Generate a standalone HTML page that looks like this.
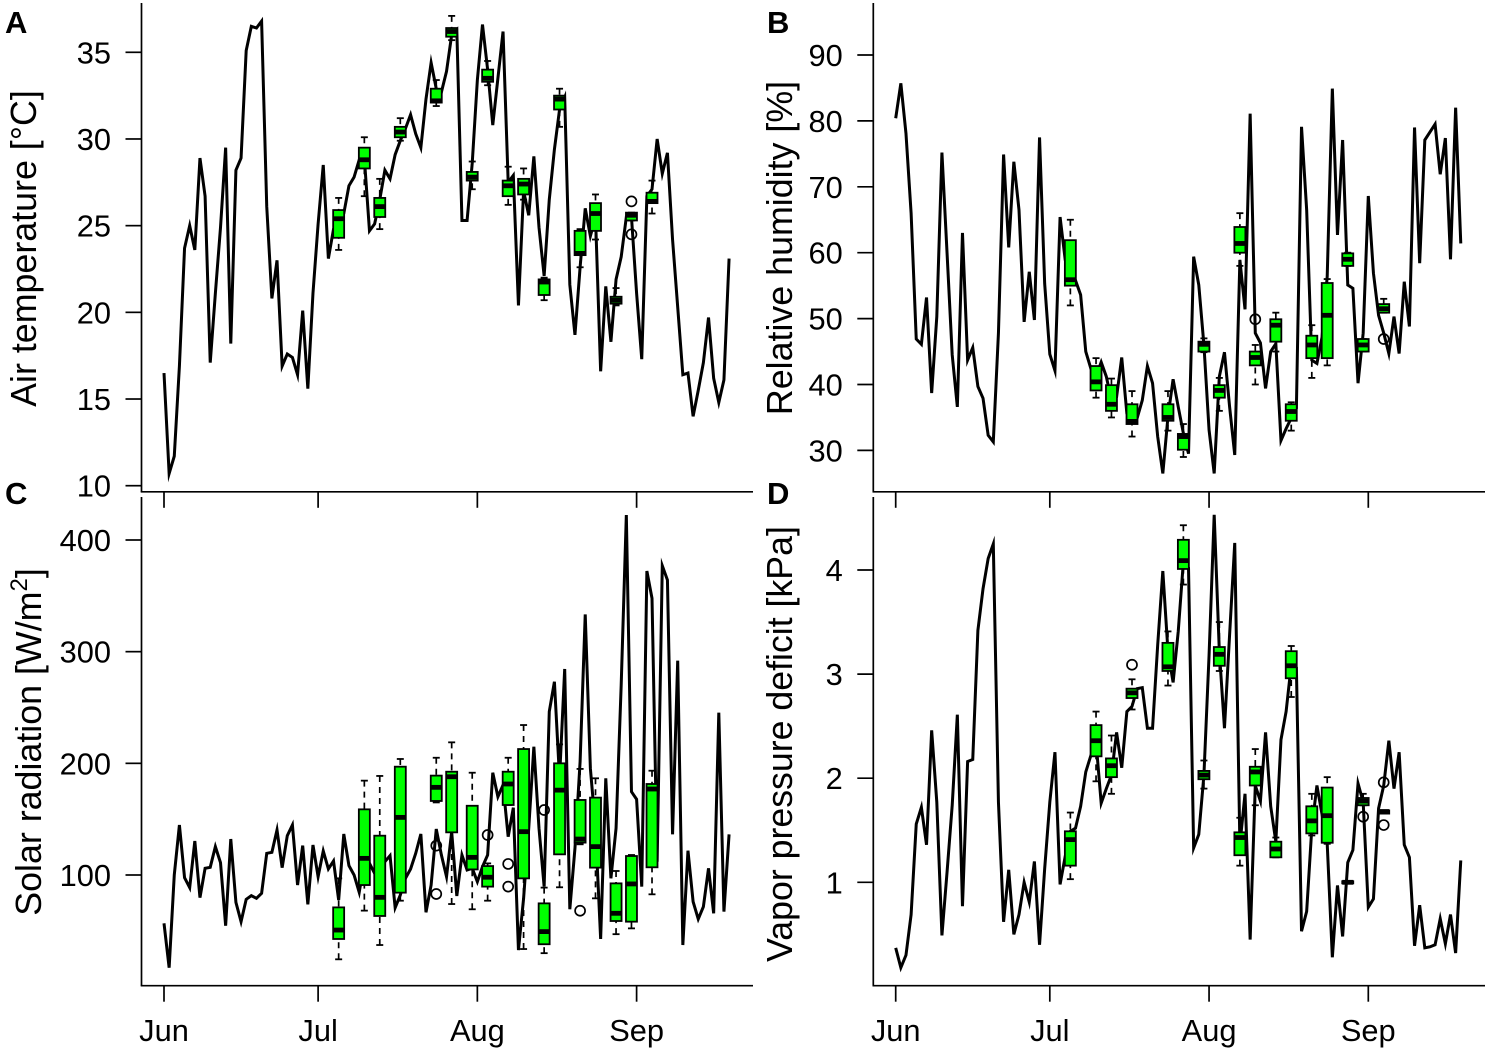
<!DOCTYPE html>
<html lang="en">
<head>
<meta charset="utf-8">
<title>Climate time series with boxplots</title>
<style>
html,body{margin:0;padding:0;background:#fff;}
svg{display:block;font-family:"Liberation Sans",Arial,sans-serif;fill:#000;}
</style>
</head>
<body>
<svg id="chart" xmlns="http://www.w3.org/2000/svg" width="1489" height="1051" viewBox="0 0 1489 1051">
  <rect x="0" y="0" width="1489" height="1051" fill="#fff"/>
  <text x="5" y="33" font-size="31" font-weight="bold">A</text>
  <text x="767" y="33" font-size="31" font-weight="bold">B</text>
  <text x="5" y="504" font-size="31" font-weight="bold">C</text>
  <text x="767" y="504" font-size="31" font-weight="bold">D</text>
  <text transform="translate(36 248.5) rotate(-90)" text-anchor="middle" font-size="35.8">Air temperature [°C]</text>
  <text transform="translate(792 248) rotate(-90)" text-anchor="middle" font-size="35.8">Relative humidity [%]</text>
  <text transform="translate(41 742) rotate(-90)" text-anchor="middle" font-size="35.8">Solar radiation [W/m<tspan font-size="24" dy="-14">2</tspan><tspan dy="14">]</tspan></text>
  <text transform="translate(792 744) rotate(-90)" text-anchor="middle" font-size="35.7">Vapor pressure deficit [kPa]</text>
</svg>
<script>
const monthLabels = ['Jun', 'Jul', 'Aug', 'Sep'];
const monthDays = [0, 30, 61, 92];
const boxDays = [34, 39, 42, 46, 53, 56, 60, 63, 67, 70, 74, 77, 81, 84, 88, 91, 95];

const airTemp = [
16.5,10.7,11.7,16.9,23.7,25.0,23.6,28.9,26.7,17.1,
21.1,24.9,29.5,18.2,28.2,28.9,35.1,36.5,36.4,36.8,
26.1,20.8,23.0,16.9,17.6,17.4,16.4,20.1,15.6,21.1,
25.1,28.5,23.1,24.8,25.2,25.7,27.3,27.8,28.8,28.9,
24.7,25.1,26.5,28.2,27.7,29.1,29.9,30.6,31.4,30.3,
29.5,32.3,34.4,32.9,32.7,33.9,36.0,36.3,25.3,25.3,
28.6,33.4,36.6,34.0,30.8,33.5,36.2,27.5,27.9,20.4,
27.0,25.6,29.0,24.9,22.1,26.5,29.4,31.7,32.4,21.6,
18.7,22.6,26.0,24.4,25.5,16.6,21.5,18.3,21.9,23.2,
25.5,25.5,21.1,17.3,26.7,27.1,30.0,28.0,29.2,24.2,
20.3,16.4,16.5,14.0,15.5,17.1,19.7,16.2,14.8,16.1,
23.1];
/* each row: low whisker, q1, median, q3, high whisker */
const airTempBoxes = [
[23.6,24.3,25.4,25.9,26.6],[26.7,28.3,28.8,29.5,30.1],[24.8,25.5,26.1,26.6,27.7],
[29.9,30.1,30.4,30.7,31.2],[31.9,32.1,32.2,32.9,33.4],[35.7,35.9,36.2,36.4,37.1],
[27.1,27.6,27.8,28.1,28.7],[33.1,33.3,33.5,34.0,34.5],[26.2,26.7,27.3,27.6,28.4],
[26.5,26.8,27.4,27.7,28.3],[20.7,21.0,21.75,21.9,22.0],[30.7,31.7,32.3,32.5,32.9],
[22.6,23.3,23.4,24.7,24.8],[24.2,24.7,25.7,26.3,26.8],[20.4,20.5,20.7,20.9,21.4],
[25.3,25.3,25.6,25.75,25.75],[25.7,26.3,26.4,26.9,27.6]];
const airTempOutlierDays = [91, 91];
const airTempOutlierValues = [26.4, 24.5];
const airTempTicks = [10, 15, 20, 25, 30, 35];

const humidity = [
80.4,85.7,78.1,66.0,46.9,46.1,53.2,38.7,50.3,75.2,
59.9,44.5,36.6,63.0,43.7,45.6,39.7,37.9,32.3,31.3,
47.8,74.9,60.8,73.8,66.5,49.5,57.1,49.8,77.5,55.3,
44.6,42.1,65.4,58.9,55.8,55.8,53.6,45.0,42.4,41.2,
43.4,41.2,37.6,38.1,44.1,35.6,34.4,34.9,37.6,42.8,
40.2,32.1,26.5,35.1,40.8,36.6,32.6,29.5,59.4,55.1,
46.0,33.1,26.5,41.2,44.9,36.6,29.3,58.9,51.4,81.1,
47.8,46.3,39.4,45.0,46.2,31.5,33.3,34.9,36.4,79.1,
66.5,43.7,43.2,47.2,56.4,84.9,62.7,77.1,55.1,54.6,
40.2,47.8,68.6,56.9,50.5,47.8,44.7,50.3,44.7,55.6,
48.8,79.0,58.4,77.1,78.3,79.5,71.9,77.4,59.0,82.0,
61.4];
const humidityBoxes = [
[52.0,55.0,55.9,61.9,65.0],[38.0,39.1,40.4,42.8,44.0],[35.0,36.0,37.0,39.9,40.9],
[32.1,34.0,34.4,37.0,39.0],[33.0,34.5,35.0,37.0,39.0],[29.0,30.1,32.1,32.5,34.0],
[44.9,45.0,46.1,46.5,47.0],[36.0,38.0,39.1,39.9,41.0],[58.0,60.0,61.4,63.9,66.0],
[40.0,42.9,44.1,45.0,46.0],[45.0,46.5,49.0,49.9,50.9],[33.0,34.5,35.9,37.0,37.3],
[41.0,44.0,46.0,47.4,49.0],[42.9,44.0,50.5,55.4,56.0],[58.0,58.0,59.0,59.9,60.0],
[45.0,45.0,46.0,46.9,46.9],[50.9,50.9,51.5,52.2,53.0]];
const humidityOutlierDays = [70, 95];
const humidityOutlierValues = [49.9, 46.9];
const humidityTicks = [30, 40, 50, 60, 70, 80, 90];

const radiation = [
56.7,17.0,100,144.8,97.6,88.7,130.4,79.7,106,106.9,
125.4,111,54.6,132.2,75.5,58.2,78.2,81.5,79.1,83.6,
119.4,120.3,140.3,106.6,135.2,144.8,91,126.3,73.7,126.9,
98.5,121.5,105.4,112.5,77.6,136.7,108.4,100,84.5,112,
110.4,101.5,106,111.9,117.3,70.7,82,97,105.4,119.4,
136.7,66.6,91,141.2,117.9,98.5,138.8,81.2,117.9,104.5,
106,94,107.5,117.9,191.6,170.1,180.6,134.3,160.3,32.8,
79,141.8,214.9,141.8,89.6,246.3,273.1,186.6,284.5,69.3,
123.9,201.5,333.4,195.5,141.8,42.7,186.6,97,141.8,270.1,
422.4,174.6,167.8,89.6,372.2,347.8,111.9,377,364.2,136.4,
291.9,37.3,121.8,76.1,60.6,71.6,106,65.7,245.4,67.2,
136.4];
const radiationBoxes = [
[24.5,42.7,50.7,71,97],[68.1,91,114.9,158.8,184.5],[37.3,63.3,80,135.2,188.7],
[77,84.2,151.6,197,203.9],[165,166.3,178.5,189,205],[74,138.2,188,192.5,218.8],
[69.3,105,115.8,162,191.6],[77,89.6,98,108,110.4],[162.7,162.7,181.5,192.5,205],
[33.7,97,138.8,212.8,234.3],[30,38,49.3,74.6,88.7],[89,118.5,176,200,217],
[127.5,129,132.2,167.2,195],[79.1,106.6,125.4,169.3,186.6],[47,58.8,65.7,92.5,103.6],
[52.2,58.2,92,117,117.9],[82.7,106.9,177,181.5,193.4]];
const radiationOutlierDays = [53, 53, 63, 67, 67, 74, 81];
const radiationOutlierValues = [126.3, 83, 135.8, 109.9, 89.6, 158.2, 68];
const radiationTicks = [100, 200, 300, 400];

const vpd = [
0.37,0.18,0.30,0.69,1.56,1.72,1.36,2.46,1.77,0.49,
1.10,1.74,2.61,0.77,2.16,2.18,3.42,3.82,4.11,4.25,
1.77,0.62,1.12,0.50,0.69,1.00,0.81,1.20,0.40,1.13,
1.77,2.25,0.98,1.25,1.49,1.52,1.73,2.06,2.22,2.35,
1.76,1.90,2.03,2.44,2.10,2.64,2.69,2.86,2.87,2.48,
2.48,3.28,3.99,3.22,2.92,3.41,4.08,4.02,1.33,1.46,
2.03,3.18,4.53,3.22,2.48,3.38,4.26,1.36,1.85,0.45,
1.93,1.78,2.44,1.73,1.39,2.37,2.64,3.09,3.06,0.53,
0.72,1.52,1.93,1.65,1.37,0.28,0.97,0.48,1.19,1.31,
1.95,1.77,0.76,0.84,1.71,1.93,2.36,1.90,2.25,1.36,
1.24,0.39,0.78,0.37,0.38,0.40,0.65,0.41,0.69,0.32,
1.21];
const vpdBoxes = [
[1.03,1.16,1.41,1.49,1.67],[1.97,2.21,2.36,2.51,2.64],[1.85,2.01,2.12,2.19,2.41],
[2.66,2.77,2.82,2.86,2.95],[2.89,3.03,3.07,3.30,3.41],[3.86,4.01,4.09,4.29,4.43],
[1.90,1.99,2.03,2.07,2.17],[3.03,3.08,3.19,3.26,3.50],[1.16,1.26,1.43,1.48,1.62],
[1.74,1.93,2.06,2.11,2.28],[1.24,1.24,1.32,1.39,1.43],[2.78,2.96,3.08,3.22,3.27],
[1.45,1.47,1.59,1.73,1.85],[1.37,1.38,1.64,1.91,2.01],[0.99,0.99,1.00,1.01,1.01],
[1.74,1.74,1.78,1.81,1.85],[1.66,1.66,1.68,1.69,1.69]];
const vpdOutlierDays = [46, 91, 95, 95];
const vpdOutlierValues = [3.09, 1.63, 1.96, 1.55];
const vpdTicks = [1, 2, 3, 4];

/* axis geometry */
const dayPx = 5.137;
const panels = [
  {key:'air-temperature', series:airTemp, boxes:airTempBoxes, outDays:airTempOutlierDays, outVals:airTempOutlierValues, ticks:airTempTicks,
   x0:164, spineX:141.5, spineTop:3, spineBottom:491.8, axisEnd:753, v0:10, y0:485.7, v1:35, y1:52.3, monthText:false},
  {key:'relative-humidity', series:humidity, boxes:humidityBoxes, outDays:humidityOutlierDays, outVals:humidityOutlierValues, ticks:humidityTicks,
   x0:895.7, spineX:873.3, spineTop:3, spineBottom:491.8, axisEnd:1485, v0:30, y0:450.4, v1:90, y1:55, monthText:false},
  {key:'solar-radiation', series:radiation, boxes:radiationBoxes, outDays:radiationOutlierDays, outVals:radiationOutlierValues, ticks:radiationTicks,
   x0:164, spineX:141.5, spineTop:497, spineBottom:985.7, axisEnd:753, v0:100, y0:875, v1:400, y1:540, monthText:true},
  {key:'vapor-pressure-deficit', series:vpd, boxes:vpdBoxes, outDays:vpdOutlierDays, outVals:vpdOutlierValues, ticks:vpdTicks,
   x0:895.7, spineX:873.3, spineTop:497, spineBottom:985.7, axisEnd:1485, v0:1, y0:882.3, v1:4, y1:570, monthText:true}
];

const svg = document.getElementById('chart');
const NS = 'http://www.w3.org/2000/svg';

function make(tag, attrs, parent) {
  const el = document.createElementNS(NS, tag);
  for (const k in attrs) el.setAttribute(k, attrs[k]);
  parent.appendChild(el);
  return el;
}

panels.forEach(function (p) {
  const xScale = function (d) { return p.x0 + d * dayPx; };
  const yScale = function (v) { return p.y0 + (v - p.v0) * (p.y1 - p.y0) / (p.v1 - p.v0); };

  const g = make('g', {}, svg);
  
  

  /* spines */
  const spineY = make('line', {x1:p.spineX, x2:p.spineX, y1:p.spineTop, y2:p.spineBottom, stroke:'#000', 'stroke-width':1.7}, g);
  
  
  const spineX = make('line', {x1:p.spineX - 0.8, x2:p.axisEnd, y1:p.spineBottom, y2:p.spineBottom, stroke:'#000', 'stroke-width':1.7}, g);
  
  

  /* y ticks and labels */
  p.ticks.forEach(function (t) {
    const y = yScale(t);
    const tick = make('line', {x1:p.spineX - 16, x2:p.spineX, y1:y, y2:y, stroke:'#000', 'stroke-width':1.7}, g);
    
    
    const label = make('text', {x:p.spineX - 30.5, y:y + 11, 'text-anchor':'end', 'font-size':30.8}, g);
    label.textContent = String(t);
    
    
  });

  /* x ticks and labels */
  monthDays.forEach(function (d, i) {
    const x = xScale(d);
    const tick = make('line', {x1:x, x2:x, y1:p.spineBottom, y2:p.spineBottom + 16, stroke:'#000', 'stroke-width':1.7}, g);
    
    
    if (p.monthText) {
      const label = make('text', {x:x, y:1041, 'text-anchor':'middle', 'font-size':30.8}, g);
      label.textContent = monthLabels[i];
      
      
    }
  });

  /* daily series line */
  const pts = p.series.map(function (v, d) { return xScale(d).toFixed(2) + ',' + yScale(v).toFixed(2); }).join(' ');
  const line = make('polyline', {points:pts, fill:'none', stroke:'#000', 'stroke-width':3, 'stroke-linejoin':'miter', 'stroke-miterlimit':6}, g);
  
  

  /* boxplots */
  p.boxes.forEach(function (b, i) {
    const day = boxDays[i];
    const cx = xScale(day);
    const low = yScale(b[0]), q1 = yScale(b[1]), med = yScale(b[2]), q3 = yScale(b[3]), high = yScale(b[4]);
    const box = make('g', {}, g);
    
    
    const wStyle = {stroke:'#000', 'stroke-width':1.7, 'stroke-dasharray':'6 5'};
    make('line', Object.assign({x1:cx, x2:cx, y1:high, y2:q3}, wStyle), box);
    make('line', Object.assign({x1:cx, x2:cx, y1:low, y2:q1}, wStyle), box);
    make('line', {x1:cx - 3.5, x2:cx + 3.5, y1:high, y2:high, stroke:'#000', 'stroke-width':1.8}, box);
    make('line', {x1:cx - 3.5, x2:cx + 3.5, y1:low, y2:low, stroke:'#000', 'stroke-width':1.8}, box);
    make('rect', {x:cx - 5.5, y:q3, width:11, height:Math.max(q1 - q3, 0.5), fill:'#00ff00', stroke:'#000', 'stroke-width':1.8}, box);
    make('line', {x1:cx - 5.5, x2:cx + 5.5, y1:med, y2:med, stroke:'#000', 'stroke-width':4.8}, box);
  });

  /* outliers */
  p.outDays.forEach(function (d, i) {
    const c = make('circle', {cx:xScale(d), cy:yScale(p.outVals[i]), r:5, fill:'none', stroke:'#000', 'stroke-width':1.7}, g);
    
    
  });
});
</script>
</body>
</html>
